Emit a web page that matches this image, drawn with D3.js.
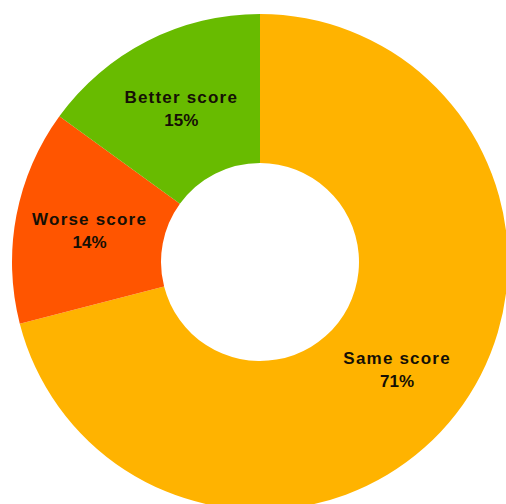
<!DOCTYPE html>
<html>
<head>
<meta charset="utf-8">
<script src="https://cdn.jsdelivr.net/npm/d3@7"></script>
<style>
  body { margin: 0; background: #fff; }
  svg text { font-family: "Liberation Sans", Arial, sans-serif; font-weight: bold; fill: #151005; }
</style>
</head>
<body>
<svg id="chart" width="506" height="504"></svg>
<script>
let categories = ['Same score', 'Worse score', 'Better score'];
let values = [71, 14, 15];
let colors = ['#ffb300', '#ff5500', '#68bb00'];

let svgWidth = 506, svgHeight = 504;
let cx = 260, cy = 262;
let outerR = 248, innerR = 99;

let data = categories.map((c, i) => ({name: c, value: values[i]}));

let color = d3.scaleOrdinal().domain(categories).range(colors);

let pie = d3.pie().value(d => d.value).sort(null);
let arc = d3.arc().innerRadius(innerR).outerRadius(outerR);
let labelArc = d3.arc().innerRadius(innerR).outerRadius(outerR);

let svg = d3.select('#chart').append('g').attr('transform', `translate(${cx},${cy})`);

let arcs = pie(data);

svg.selectAll('path')
   .data(arcs)
   .enter()
   .append('path')
   .attr('d', arc)
   .attr('fill', d => color(d.data.name));

// labels
let labels = svg.selectAll('text.lbl')
   .data(arcs)
   .enter()
   .append('text')
   .attr('class', 'lbl')
   .attr('text-anchor', 'middle')
   .attr('font-size', '17px')
   .attr('transform', d => `translate(${labelArc.centroid(d)})`);

labels.append('tspan')
   .attr('x', 0)
   .attr('y', -4)
   .attr('letter-spacing', '1.2px')
   .text(d => d.data.name);

labels.append('tspan')
   .attr('x', 0)
   .attr('y', 19)
   .text(d => d.data.value + '%');
</script>
</body>
</html>
